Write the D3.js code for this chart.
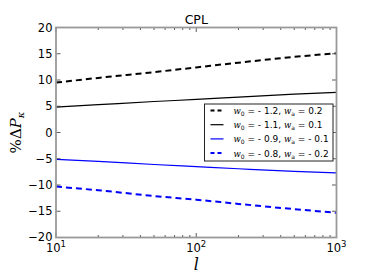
<!DOCTYPE html>
<html><head><meta charset="utf-8">
<script src="https://cdn.jsdelivr.net/npm/d3@7"></script>
<style>html,body{margin:0;padding:0;background:#fff}svg{display:block}</style>
</head><body>
<svg id="c" width="374" height="280"></svg>
<script>
const ells = [10, 20, 50, 100, 200, 500, 1000];
const s1 = [9.5, 10.4, 11.5, 12.4, 13.3, 14.4, 15.1];      // w0=-1.2, wa=0.2
const s2 = [4.85, 5.3, 5.9, 6.3, 6.75, 7.3, 7.65];        // w0=-1.1, wa=0.1
const s3 = [-5.1, -5.5, -6.1, -6.5, -6.9, -7.4, -7.7];     // w0=-0.9, wa=-0.1
const s4 = [-10.3, -11.0, -12.1, -12.8, -13.6, -14.6, -15.3]; // w0=-0.8, wa=-0.2
const w0s = ["- 1.2", "- 1.1", "- 0.9", "- 0.8"];
const was = ["0.2", "0.1", "- 0.1", "- 0.2"];
const yTicks = [-20, -15, -10, -5, 0, 5, 10, 15, 20];
const xMajor = [10, 100, 1000];
const xExp = ["1", "2", "3"];
const title = "CPL";

const svg = d3.select("#c");
const L = 56, R = 336.5, T = 27.5, B = 237.5;
const x = d3.scaleLog().domain([10, 1000]).range([L, R]);
const y = d3.scaleLinear().domain([-20, 20]).range([B, T]);

const series = [
  {v: s1, color: "#000", dash: "6,4", w: 2},
  {v: s2, color: "#000", dash: null, w: 1.2},
  {v: s3, color: "#0000ff", dash: null, w: 1.2},
  {v: s4, color: "#0000ff", dash: "6,4", w: 2}
];

const line = d3.line().x((d, i) => x(ells[i])).y(d => y(d)).curve(d3.curveMonotoneX);
svg.append("clipPath").attr("id", "cl").append("rect")
  .attr("x", L).attr("y", T).attr("width", R - L).attr("height", B - T);
series.forEach(s => {
  svg.append("path").attr("d", line(s.v)).attr("fill", "none")
    .attr("stroke", s.color).attr("stroke-width", s.w)
    .attr("stroke-dasharray", s.dash).attr("clip-path", "url(#cl)");
});

// ticks
const minor = [];
[10, 100].forEach(b => { for (let k = 2; k <= 9; k++) minor.push(b * k); });
const tg = svg.append("g").attr("stroke", "#333").attr("stroke-width", 0.8);
minor.forEach(v => {
  tg.append("line").attr("x1", x(v)).attr("x2", x(v)).attr("y1", B).attr("y2", B - 2.5);
  tg.append("line").attr("x1", x(v)).attr("x2", x(v)).attr("y1", T).attr("y2", T + 2.5);
});
xMajor.forEach(v => {
  tg.append("line").attr("x1", x(v)).attr("x2", x(v)).attr("y1", B).attr("y2", B - 4.5);
  tg.append("line").attr("x1", x(v)).attr("x2", x(v)).attr("y1", T).attr("y2", T + 4.5);
});
yTicks.forEach(v => {
  tg.append("line").attr("x1", L).attr("x2", L + 4.5).attr("y1", y(v)).attr("y2", y(v));
  tg.append("line").attr("x1", R).attr("x2", R - 4.5).attr("y1", y(v)).attr("y2", y(v));
});

// frame
svg.append("rect").attr("x", L).attr("y", T).attr("width", R - L).attr("height", B - T)
  .attr("fill", "none").attr("stroke", "#999").attr("stroke-width", 1.8);

const font = "DejaVu Sans, sans-serif";
// y tick labels
yTicks.forEach(v => {
  svg.append("text").attr("x", L - 3.5).attr("y", y(v) + 4.2 - (v === -20 ? 1 : 0))
    .attr("text-anchor", "end").attr("font-family", font).attr("font-size", 11.5)
    .text(v < 0 ? "\u2212" + Math.abs(v) : String(v));
});
// x tick labels
xMajor.forEach((v, i) => {
  const t = svg.append("text").attr("x", x(v)).attr("y", 252)
    .attr("text-anchor", "middle").attr("font-family", font).attr("font-size", 11.5);
  t.append("tspan").text("10");
  t.append("tspan").attr("dy", -5).attr("font-size", 8.5).text(xExp[i]);
});

// title
svg.append("text").attr("x", (L + R) / 2).attr("y", 24).attr("text-anchor", "middle")
  .attr("font-family", font).attr("font-size", 12.5).text(title);

// x label
svg.append("text").attr("x", (L + R) / 2).attr("y", 270).attr("text-anchor", "middle")
  .attr("font-family", "DejaVu Serif, serif").attr("font-style", "italic").attr("font-size", 16).text("l");

// y label
const yl = svg.append("text").attr("transform", `translate(21,${(T + B) / 2}) rotate(-90)`)
  .attr("text-anchor", "middle").attr("font-family", "DejaVu Serif, serif").attr("font-size", 15);
yl.append("tspan").text("%\u0394");
yl.append("tspan").attr("font-style", "italic").text("P");
yl.append("tspan").attr("font-style", "italic").attr("font-size", 10).attr("dy", 3).text("\u03BA");

// legend
const lx = 204.5, ly = 104, lw = 128.5, lh = 57;
svg.append("rect").attr("x", lx).attr("y", ly).attr("width", lw).attr("height", lh)
  .attr("fill", "#fff").attr("stroke", "#222").attr("stroke-width", 1);
series.forEach((s, i) => {
  const cy = 110.5 + i * 14.2;
  svg.append("line").attr("x1", lx + 6).attr("x2", lx + 19).attr("y1", cy).attr("y2", cy)
    .attr("stroke", s.color).attr("stroke-width", s.w).attr("stroke-dasharray", s.dash ? "4,3" : null);
  const t = svg.append("text").attr("x", lx + 29).attr("y", cy + 3.5)
    .attr("font-family", font).attr("font-size", 9);
  t.append("tspan").attr("font-family", "DejaVu Serif, serif").attr("font-style", "italic").attr("font-size", 8.5).text("w");
  t.append("tspan").attr("font-size", 6).attr("dy", 2).text("0");
  t.append("tspan").attr("dy", -2).text(" = " + w0s[i] + ", ");
  t.append("tspan").attr("font-family", "DejaVu Serif, serif").attr("font-style", "italic").attr("font-size", 8.5).text("w");
  t.append("tspan").attr("font-size", 6).attr("dy", 2).text("a");
  t.append("tspan").attr("dy", -2).text(" = " + was[i]);
});
</script>
</body></html>
